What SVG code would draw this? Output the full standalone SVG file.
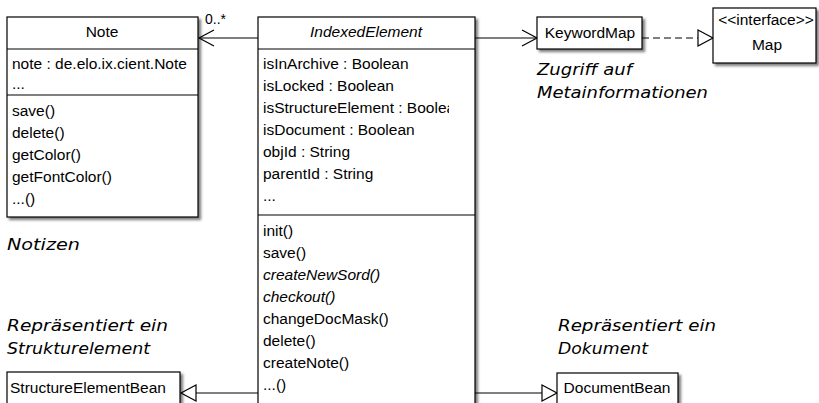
<svg xmlns="http://www.w3.org/2000/svg" width="819" height="403" viewBox="0 0 819 403">
<defs>
  <filter id="sh" x="-10%" y="-10%" width="130%" height="130%">
    <feDropShadow dx="2.5" dy="2.5" stdDeviation="1" flood-color="#000" flood-opacity="0.5"/>
  </filter>
  <marker id="open" markerWidth="18" markerHeight="18" refX="16" refY="9" orient="auto" markerUnits="userSpaceOnUse">
    <path d="M1,1 L16,9 L1,17" fill="none" stroke="#000" stroke-width="1.2"/>
  </marker>
  <marker id="tri" markerWidth="18" markerHeight="20" refX="16" refY="10" orient="auto" markerUnits="userSpaceOnUse">
    <path d="M1,2 L16,10 L1,18 Z" fill="#fff" stroke="#000" stroke-width="1.2"/>
  </marker>
  <clipPath id="ieclip"><rect x="258" y="17" width="191" height="400"/></clipPath>
</defs>
<style>
  .box { fill: #fff; stroke: #000; stroke-width: 1.2; }
  .div { stroke: #000; stroke-width: 1.2; }
  .t { font-family: "Liberation Sans", Arial, sans-serif; font-size: 15.5px; fill: #000; }
  .ti { font-family: "Liberation Sans", Arial, sans-serif; font-size: 15.5px; font-style: italic; fill: #000; }
  .c { text-anchor: middle; }
  .s { font-family: "Liberation Sans", Arial, sans-serif; font-size: 14px; fill: #000; }
  .hand { font-family: "DejaVu Sans", sans-serif; font-size: 16px; font-style: italic; fill: #000; }
  .ln { stroke: #000; stroke-width: 1.2; fill: none; }
</style>
<rect width="819" height="403" fill="#fff"/>

<g id="connectors">
  <line class="ln" x1="258" y1="38" x2="199" y2="38" marker-end="url(#open)"/>
  <text class="s" x="205" y="24">0..*</text>
  <line class="ln" x1="475" y1="38" x2="537" y2="38" marker-end="url(#open)"/>
  <line class="ln" x1="642" y1="38" x2="713" y2="38" stroke-dasharray="7,4" marker-end="url(#tri)"/>
  <line class="ln" x1="258" y1="393" x2="181" y2="393" marker-end="url(#tri)"/>
  <line class="ln" x1="475" y1="393" x2="557" y2="393" marker-end="url(#tri)"/>
</g>

<g id="Note">
  <rect class="box" x="7" y="17" width="191" height="200" filter="url(#sh)"/>
  <line class="div" x1="7" y1="49" x2="198" y2="49"/>
  <line class="div" x1="7" y1="95" x2="198" y2="95"/>
  <text class="t c" x="102" y="37">Note</text>
  <text class="t" x="12" y="69">note : de.elo.ix.cient.Note</text>
  <text class="t" x="12" y="89">...</text>
  <text class="t" x="12" y="116">save()</text>
  <text class="t" x="12" y="138">delete()</text>
  <text class="t" x="12" y="160">getColor()</text>
  <text class="t" x="12" y="182">getFontColor()</text>
  <text class="t" x="12" y="204">...()</text>
</g>

<g id="IndexedElement">
  <rect class="box" x="258" y="17" width="217" height="400" filter="url(#sh)"/>
  <line class="div" x1="258" y1="49" x2="475" y2="49"/>
  <line class="div" x1="258" y1="215" x2="475" y2="215"/>
  <text class="ti c" x="366" y="37">IndexedElement</text>
  <g clip-path="url(#ieclip)">
    <text class="t" x="263" y="69">isInArchive : Boolean</text>
    <text class="t" x="263" y="91">isLocked : Boolean</text>
    <text class="t" x="263" y="113">isStructureElement : Boolean</text>
    <text class="t" x="263" y="135">isDocument : Boolean</text>
    <text class="t" x="263" y="157">objId : String</text>
    <text class="t" x="263" y="179">parentId : String</text>
    <text class="t" x="263" y="201">...</text>
    <text class="t" x="263" y="236">init()</text>
    <text class="t" x="263" y="258">save()</text>
    <text class="ti" x="263" y="280">createNewSord()</text>
    <text class="ti" x="263" y="302">checkout()</text>
    <text class="t" x="263" y="324">changeDocMask()</text>
    <text class="t" x="263" y="346">delete()</text>
    <text class="t" x="263" y="368">createNote()</text>
    <text class="t" x="263" y="390">...()</text>
  </g>
</g>

<g id="KeywordMap">
  <rect class="box" x="537" y="17" width="105" height="32" filter="url(#sh)"/>
  <text class="t c" x="590" y="38">KeywordMap</text>
</g>

<g id="Map">
  <rect class="box" x="713" y="8" width="103" height="55" filter="url(#sh)"/>
  <text class="t c" x="766" y="25">&lt;&lt;interface&gt;&gt;</text>
  <text class="t c" x="767" y="50">Map</text>
</g>

<g id="StructureElementBean">
  <rect class="box" x="7" y="372" width="173" height="40" filter="url(#sh)"/>
  <text class="t" x="10" y="393">StructureElementBean</text>
</g>

<g id="DocumentBean">
  <rect class="box" x="557" y="373" width="121" height="40" filter="url(#sh)"/>
  <text class="t c" x="617" y="393">DocumentBean</text>
</g>

<g id="comments">
  <text class="hand" x="7" y="250" textLength="73" lengthAdjust="spacingAndGlyphs">Notizen</text>
  <text class="hand" x="537" y="75" textLength="95" lengthAdjust="spacingAndGlyphs">Zugriff auf</text>
  <text class="hand" x="537" y="98" textLength="171" lengthAdjust="spacingAndGlyphs">Metainformationen</text>
  <text class="hand" x="7" y="331" textLength="161" lengthAdjust="spacingAndGlyphs">Repräsentiert ein</text>
  <text class="hand" x="7" y="354" textLength="143" lengthAdjust="spacingAndGlyphs">Strukturelement</text>
  <text class="hand" x="558" y="331" textLength="158" lengthAdjust="spacingAndGlyphs">Repräsentiert ein</text>
  <text class="hand" x="558" y="354" textLength="90" lengthAdjust="spacingAndGlyphs">Dokument</text>
</g>
</svg>
